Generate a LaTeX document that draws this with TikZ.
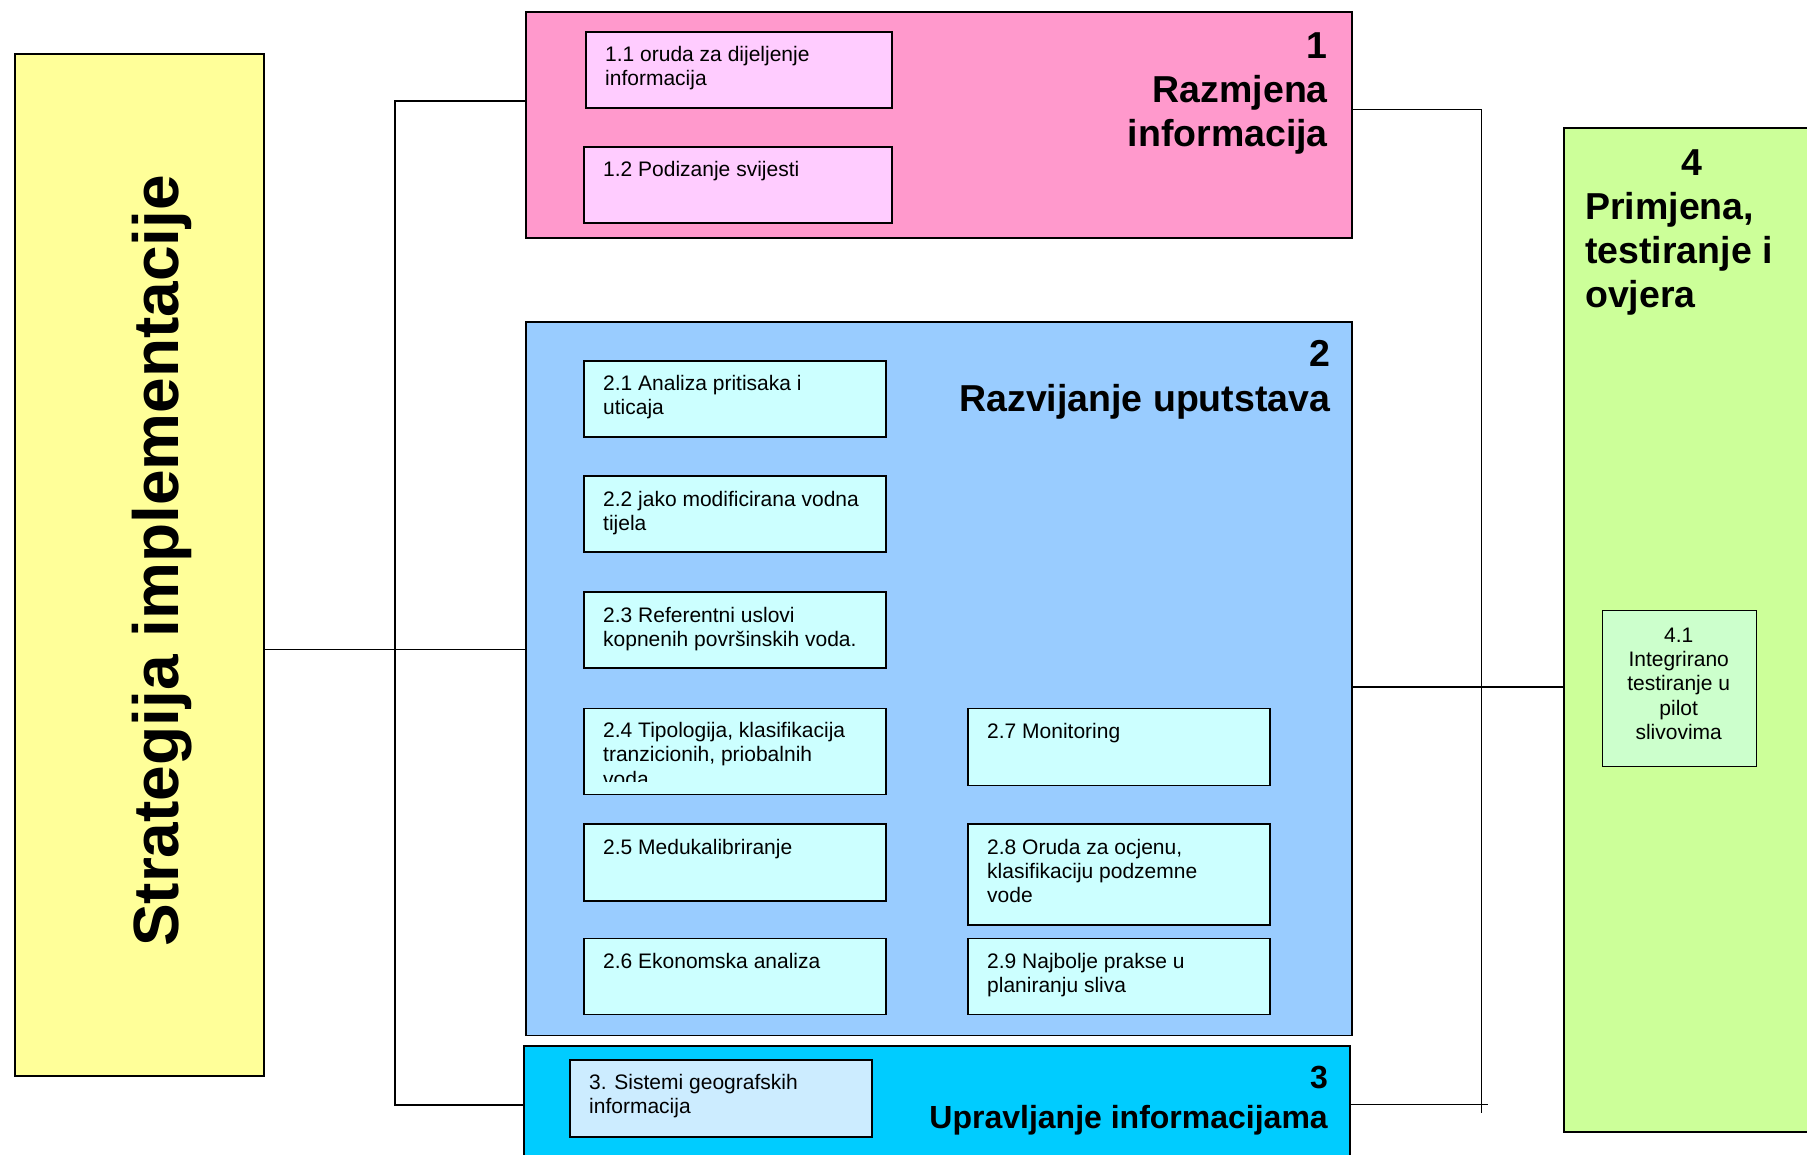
\documentclass[tikz,border=0pt]{standalone}
\usepackage{fontspec}
\setmainfont{Liberation Sans}
\definecolor{yelF}{HTML}{FFFF99}
\definecolor{pinkF}{HTML}{FF99CC}
\definecolor{pinkL}{HTML}{FFCCFF}
\definecolor{blueF}{HTML}{99CCFF}
\definecolor{cyanL}{HTML}{CCFFFF}
\definecolor{cyanF}{HTML}{00CCFF}
\definecolor{gisL}{HTML}{CCECFF}
\definecolor{greenF}{HTML}{CCFF99}
\definecolor{greenL}{HTML}{CCFFCC}
\begin{document}
\begin{tikzpicture}[x=1pt,y=-1pt,
  frame/.style={draw=black, line width=1.6pt, rectangle, inner sep=0pt, anchor=north west},
  itemtext/.style={anchor=base west, inner sep=0pt, font=\fontsize{21}{24}\selectfont},
  head/.style={anchor=base east, inner sep=0pt, font=\bfseries\fontsize{37.5}{44}\selectfont},
  link/.style={draw=black, line width=1.3pt}]
\useasboundingbox (0,0) rectangle (1807,1155);
\fill[white] (0,0) rectangle (1807,1155);

% bus coordinates
\coordinate (lb1) at (395,101);
\coordinate (lb3) at (395,1105);
\coordinate (ly)  at (395,649.5);
\coordinate (rb1) at (1481.5,109.5);
\coordinate (rb3) at (1481.5,1113);
\coordinate (ry)  at (1481.5,687);
\coordinate (rc)  at (1488,1104.5);

% main blocks
\node[frame, fill=yelF,   minimum width=249pt, minimum height=1022pt] (yel) at (14,53) {};
\node[frame, fill=pinkF,  minimum width=826pt, minimum height=226pt]  (g1) at (525,11) {};
\node[frame, fill=blueF,  minimum width=826pt, minimum height=713pt]  (g2) at (525,321.5) {};
\node[frame, fill=cyanF,  minimum width=826pt, minimum height=160pt]  (g3) at (523,1045) {};
\node[frame, fill=greenF, minimum width=260pt, minimum height=1004pt] (g4) at (1563,127) {};

% connectors, left side
\draw[link] (g1.west |- lb1) -- (lb1) -- (lb3) -- (g3.west |- lb3);
\draw[link] (yel.east |- ly) -- (g2.west |- ly);
% connectors, right side
\draw[link] (g1.east |- rb1) -- (rb1) -- (rb3);
\draw[link] (g2.east |- ry) -- (g4.west |- ry);
\draw[link] (g3.east |- rc) -- (rc);

% vertical title
\node[rotate=90, anchor=base, inner sep=0pt, font=\bfseries\fontsize{64}{76}\selectfont] (vt) at (178,561) {Strategija implementacije};

% group 1
\node[frame, fill=pinkL, minimum width=306pt, minimum height=76pt] (b11) at (585,31) {};
\node[itemtext] (t11) at ([xshift=20pt,yshift=-31pt]b11.north west) {\parbox[t]{280pt}{\raggedright 1.1 oruda za dijeljenje\\informacija}};
\node[frame, fill=pinkL, minimum width=308pt, minimum height=76pt] (b12) at (583,146) {};
\node[itemtext] (t12) at ([xshift=20pt,yshift=-31pt]b12.north west) {\parbox[t]{280pt}{\raggedright 1.2 Podizanje svijesti}};
\node[head] (h1) at (1328,59) {\parbox[t]{500pt}{\raggedleft\fontsize{37.5}{44}\selectfont 1\\Razmjena\\informacija}};

% group 2
\node[frame, fill=cyanL, minimum width=302pt, minimum height=76pt] (b21) at (583,360) {};
\node[itemtext] (t21) at ([xshift=20pt,yshift=-31pt]b21.north west) {\parbox[t]{280pt}{\raggedright 2.1 Analiza pritisaka i\\uticaja}};
\node[frame, fill=cyanL, minimum width=302pt, minimum height=76pt] (b22) at (583,475) {};
\node[itemtext] (t22) at ([xshift=20pt,yshift=-31pt]b22.north west) {\parbox[t]{280pt}{\raggedright 2.2 jako modificirana vodna\\tijela}};
\node[frame, fill=cyanL, minimum width=302pt, minimum height=76pt] (b23) at (583,591) {};
\node[itemtext] (t23) at ([xshift=20pt,yshift=-31pt]b23.north west) {\parbox[t]{280pt}{\raggedright 2.3 Referentni uslovi\\kopnenih površinskih voda.}};
\node[frame, fill=cyanL, minimum width=302pt, minimum height=86pt] (b24) at (583,707.5) {};
\begin{scope}
  % the third line does not fit and is cut by the text area
  \clip (b24.north west) rectangle ([yshift=13.5pt]b24.south east);
  \node[itemtext] (t24) at ([xshift=20pt,yshift=-29.5pt]b24.north west) {\parbox[t]{280pt}{\raggedright\fontsize{21}{24.5}\selectfont 2.4 Tipologija, klasifikacija\\tranzicionih, priobalnih\\voda}};
\end{scope}
\node[frame, fill=cyanL, minimum width=302pt, minimum height=77pt] (b25) at (583,823) {};
\node[itemtext] (t25) at ([xshift=20pt,yshift=-31pt]b25.north west) {\parbox[t]{280pt}{\raggedright 2.5 Medukalibriranje}};
\node[frame, fill=cyanL, minimum width=302pt, minimum height=76pt] (b26) at (583,937.5) {};
\node[itemtext] (t26) at ([xshift=20pt,yshift=-31pt]b26.north west) {\parbox[t]{280pt}{\raggedright 2.6 Ekonomska analiza}};
\node[frame, fill=cyanL, minimum width=302pt, minimum height=77pt] (b27) at (967,707.5) {};
\node[itemtext] (t27) at ([xshift=20pt,yshift=-31pt]b27.north west) {\parbox[t]{280pt}{\raggedright 2.7 Monitoring}};
\node[frame, fill=cyanL, minimum width=302pt, minimum height=101pt] (b28) at (967,823) {};
\node[itemtext] (t28) at ([xshift=20pt,yshift=-31pt]b28.north west) {\parbox[t]{280pt}{\raggedright 2.8 Oruda za ocjenu,\\klasifikaciju podzemne\\vode}};
\node[frame, fill=cyanL, minimum width=302pt, minimum height=76pt] (b29) at (967,937.5) {};
\node[itemtext] (t29) at ([xshift=20pt,yshift=-31pt]b29.north west) {\parbox[t]{280pt}{\raggedright 2.9 Najbolje prakse u\\planiranju sliva}};
\node[head] (h2) at (1330.5,367) {\parbox[t]{600pt}{\raggedleft\fontsize{37.5}{44}\selectfont 2\\Razvijanje uputstava}};

% group 3
\node[frame, fill=gisL, minimum width=302pt, minimum height=77pt] (b3) at (569,1059) {};
\node[itemtext] (t3) at ([xshift=20pt,yshift=-30pt]b3.north west) {\parbox[t]{280pt}{\raggedright 3. Sistemi geografskih\\informacija}};
\node[head, font=\bfseries\fontsize{32}{40}\selectfont] (h3) at (1328,1088) {\parbox[t]{600pt}{\raggedleft\fontsize{32}{40}\selectfont 3\\Upravljanje informacijama}};

% group 4
\node[anchor=base, inner sep=0pt, font=\bfseries\fontsize{37.5}{44}\selectfont] (h4n) at (1691.7,176) {4};
\node[anchor=base west, inner sep=0pt, font=\bfseries\fontsize{37.5}{44}\selectfont] (h4) at (1585,220) {\parbox[t]{220pt}{\raggedright\fontsize{37.5}{44}\selectfont Primjena,\\testiranje i\\ovjera}};
\node[frame, fill=greenL, minimum width=154pt, minimum height=156pt] (b41) at (1601.5,609.5) {};
\node[itemtext] (t41) at ([yshift=-33pt]b41.north west) {\parbox[t]{154pt}{\centering\fontsize{21}{24.2}\selectfont 4.1\\Integrirano\\testiranje u\\pilot\\slivovima}};
\end{tikzpicture}
\end{document}
